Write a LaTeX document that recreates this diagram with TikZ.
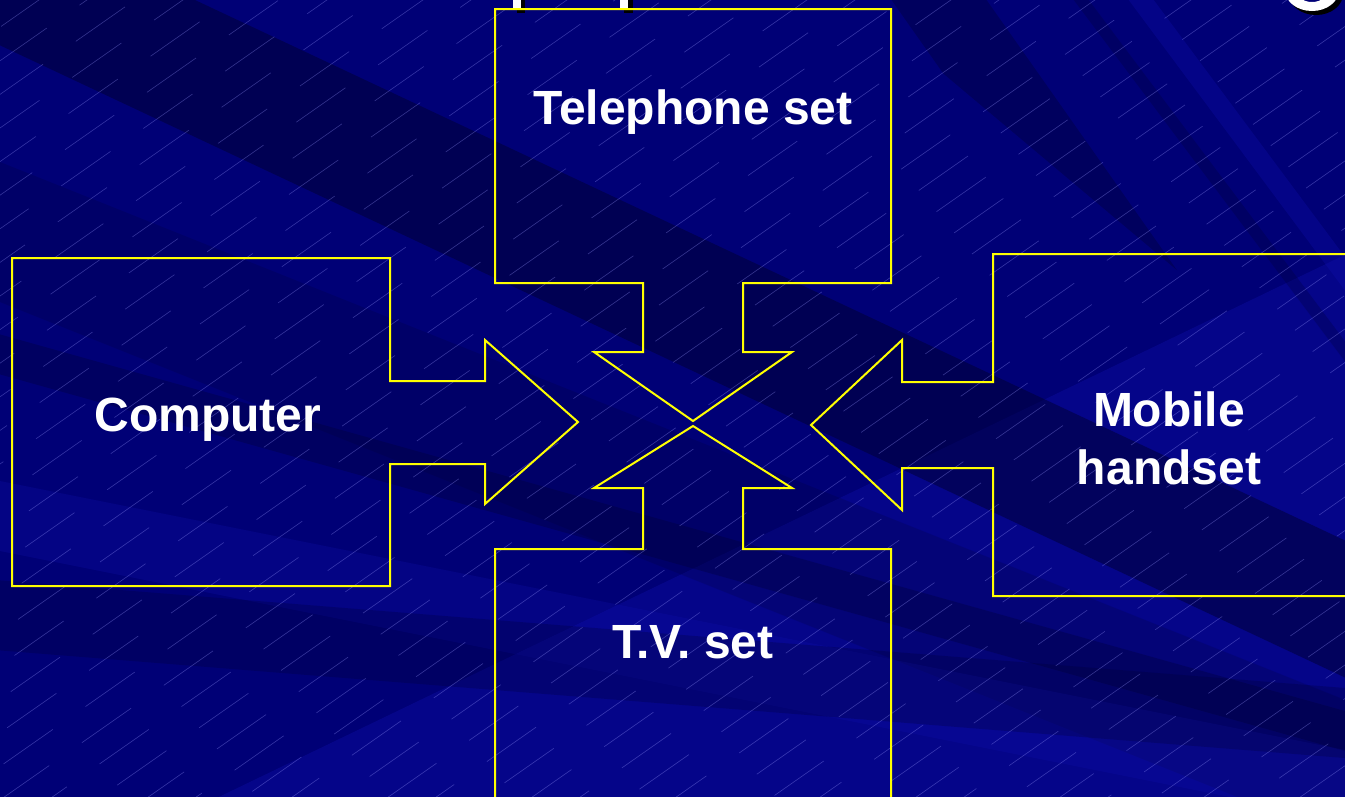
\documentclass[tikz,border=0pt]{standalone}
\usepackage{fontspec}
\setmainfont{Liberation Sans}
\definecolor{bgbase}{RGB}{0,0,118}
\definecolor{bgdark}{RGB}{0,0,50}
\definecolor{bglight}{RGB}{16,16,175}
\definecolor{frameyellow}{RGB}{255,255,0}
\newcommand\bgband[5]{\fill[#4,opacity=#5] (-5,#1) -- (1350,{#1+1355*#3}) -- (1350,{#2+1355*#3}) -- (-5,#2) -- cycle;}
\begin{document}
\begin{tikzpicture}[x=1pt,y=-1pt,
  outline/.style={draw=frameyellow, line width=2pt, line join=miter},
  lbl/.style={text=white, font=\bfseries\fontsize{48}{56}\selectfont, inner sep=0pt, anchor=base},
  texture/.style={draw=white!60!blue, line width=0.6pt, opacity=0.35},
  shadowfill/.style={fill=black},
  titlefill/.style={fill=white}]
\useasboundingbox (0,0) rectangle (1345,796);
\begin{scope}
\clip (0,0) rectangle (1345,796);
% background
\fill[bgbase] (-10,-10) rectangle (1355,806);
\fill[bglight,opacity=0.35] (200,806) -- (1355,250) -- (1355,806) -- cycle;
\bgband{-94}{43}{0.47}{bgdark}{0.5}
\bgband{160}{300}{0.40}{bgdark}{0.2}
\bgband{333}{373}{0.28}{bgdark}{0.3}
\bgband{480}{550}{0.20}{bglight}{0.25}
\bgband{580}{650}{0.08}{bgdark}{0.25}
\begin{scope}
\clip (850,-5) -- (1355,-5) -- (1355,420) -- cycle;
\fill[bgdark,opacity=0.35] (888,-5) -- (983,-5) -- (1551,801) -- (1456,801) -- cycle;
\fill[bgdark,opacity=0.25] (1070,-5) -- (1085,-5) -- (1690,801) -- (1675,801) -- cycle;
\fill[bglight,opacity=0.3] (1125,-5) -- (1150,-5) -- (1750,801) -- (1725,801) -- cycle;
\end{scope}
% texture lines
\foreach \i in {-24,...,28} {
  \pgfmathsetmacro\ph{mod(abs(\i)*37,100)}
  \draw[texture, dash pattern=on 60pt off 40pt, dash phase=\ph pt] (\i*48,800) -- ++(1200,-840);
}
% title fragments (cut off at the top)
\fill[shadowfill] (517,0) rectangle (525,13);
\fill[titlefill] (513,-2) rectangle (521,8);
\fill[shadowfill] (624,0) rectangle (633,13);
\fill[titlefill] (620,-2) rectangle (628,8);
\fill[shadowfill, even odd rule] (1316,-6) ellipse [x radius=27pt, y radius=21pt] (1316,-6) ellipse [x radius=16pt, y radius=12pt];
\fill[titlefill, even odd rule] (1312,-10) ellipse [x radius=27pt, y radius=21pt] (1312,-10) ellipse [x radius=16pt, y radius=12pt];
% callout outlines
\draw[outline] (495,9) -- (891,9) -- (891,283) -- (743,283) -- (743,352) -- (792,352) -- (693,421) -- (594,352) -- (643,352) -- (643,283) -- (495,283) -- cycle;
\draw[outline] (495,810) -- (495,549) -- (643,549) -- (643,488) -- (594,488) -- (693,426) -- (792,488) -- (743,488) -- (743,549) -- (891,549) -- (891,810);
\draw[outline] (12,258) -- (390,258) -- (390,381) -- (485,381) -- (485,340) -- (578,422) -- (485,504) -- (485,464) -- (390,464) -- (390,586) -- (12,586) -- cycle;
\draw[outline] (1355,254) -- (993,254) -- (993,382) -- (902,382) -- (902,340) -- (811,425) -- (902,510) -- (902,468) -- (993,468) -- (993,596) -- (1355,596);
\end{scope}
% labels
\node[lbl] (tel) at (693,124) {Telephone set};
\node[lbl] (comp) at (208,431) {Computer};
\node[lbl] (mob1) at (1169,426) {Mobile};
\node[lbl] (mob2) at (1169,484) {handset};
\node[lbl] (tv) at (693,658) {T.V. set};
\end{tikzpicture}
\end{document}
